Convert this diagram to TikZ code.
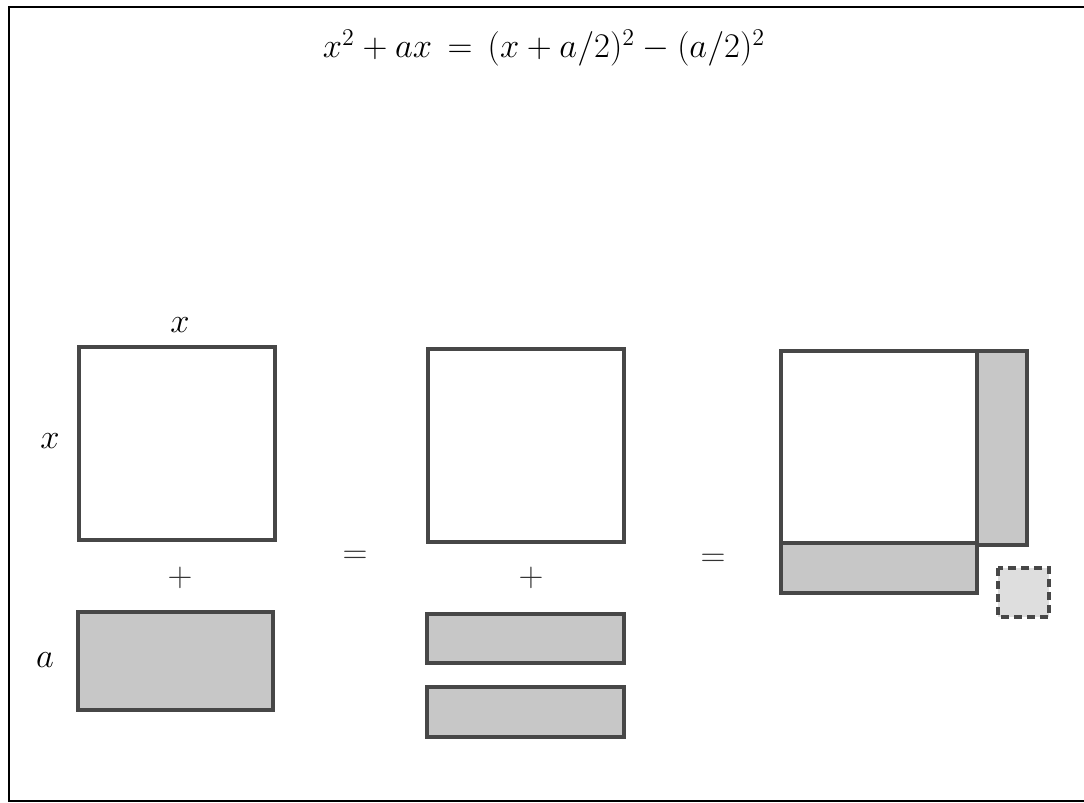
\documentclass[tikz,border=0pt]{standalone}
\usepackage{amsmath}

\begin{document}
\begin{tikzpicture}[x=0.5pt, y=-0.5pt,
    box/.style={draw=black!72, line width=1.6pt},
    strip/.style={box, fill=black!22},
    label/.style={font=\fontsize{16}{19}\selectfont},
    op/.style={font=\fontsize{17}{20}\selectfont, text=black!80}]
    \useasboundingbox (0,0) rectangle (1084,803);
    \draw[line width=1.3pt] (1084,7) -- (9,7) -- (9,801) -- (1084,801);

    \node[font=\fontsize{18}{21}\selectfont] (eq) at (544,48)
        {$x^2+ax \,=\, (x+a/2)^2-(a/2)^2$};

    % x^2 + a x
    \draw[box] (79,347) rectangle (275,540);
    \node[label] (lx1) at (180,325) {$x$};
    \node[label] (lx2) at (50,441) {$x$};
    \node[op] (p1) at (180,578) {$+$};
    \draw[strip] (78,612) rectangle (273,710);
    \node[label] (la) at (45,660) {$a$};

    \node[op] (e1) at (355,557) {$=$};

    % square plus two halves
    \draw[box] (428,349) rectangle (624,542);
    \node[op] (p2) at (531,578) {$+$};
    \draw[strip] (427,614) rectangle (624,663);
    \draw[strip] (427,687) rectangle (624,737);

    \node[op] (e2) at (713,560) {$=$};

    % completed square
    \draw[strip] (977,351) rectangle (1027,545);
    \draw[strip] (781,543) rectangle (977,593);
    \draw[box] (781,351) rectangle (977,543);
    \draw[box, fill=black!13, dashed, dash pattern=on 4pt off 2.5pt]
        (998,568) rectangle (1049,617);
\end{tikzpicture}
\end{document}
